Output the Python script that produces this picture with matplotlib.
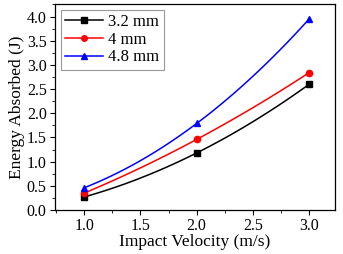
import numpy as np
import matplotlib
matplotlib.use("Agg")
import matplotlib.pyplot as plt
from matplotlib.ticker import MultipleLocator

velocity = [1.0, 2.0, 3.0]
series_labels = ["3.2 mm", "4 mm", "4.8 mm"]
e_32 = [0.27, 1.18, 2.60]
e_40 = [0.35, 1.46, 2.84]
e_48 = [0.46, 1.79, 3.95]
colors = ["black", "red", "blue"]
markers = ["s", "o", "^"]

plt.rcParams["font.family"] = ["Liberation Serif", "DejaVu Serif"]
fig = plt.figure(figsize=(3.43, 2.54), dpi=100)
ax = fig.add_axes([55/343, 44/254, 280/343, 206/254])

xs = np.linspace(min(velocity), max(velocity), 100)
for vals, c, m, lab in zip([e_32, e_40, e_48], colors, markers, series_labels):
    coef = np.polyfit(velocity, vals, 2)
    ax.plot(xs, np.polyval(coef, xs), color=c, lw=1.1)
    ax.plot(velocity, vals, linestyle="none", marker=m, color=c, ms=4.5)
    ax.plot([], [], color=c, marker=m, ms=4, lw=1.1, label=lab)

ax.set_xlim(0.74, 3.23)
ax.set_ylim(0, 4.26)
ax.xaxis.set_major_locator(MultipleLocator(0.5))
ax.xaxis.set_minor_locator(MultipleLocator(0.25))
ax.yaxis.set_major_locator(MultipleLocator(0.5))
ax.yaxis.set_minor_locator(MultipleLocator(0.25))
ax.tick_params(which="both", direction="out", labelsize=11.5, top=False, right=False, pad=2.5)
ax.tick_params(which="major", length=3.5)
ax.tick_params(which="minor", length=2)
ax.set_xticks([1.0, 1.5, 2.0, 2.5, 3.0])
ax.set_xticklabels(["1.0", "1.5", "2.0", "2.5", "3.0"])
ax.set_xlabel("Impact Velocity (m/s)", fontsize=12.5, labelpad=0)
ax.set_ylabel("Energy Absorbed (J)", fontsize=12.5, labelpad=1)
for s in ax.spines.values():
    s.set_linewidth(0.9)
leg = ax.legend(loc="upper left", fontsize=12, frameon=True, fancybox=False,
                edgecolor="gray", handlelength=2.3, borderpad=0.25, labelspacing=0.1,
                handletextpad=0.3, borderaxespad=0.35)
leg.get_frame().set_linewidth(0.8)
fig.savefig("out.png", dpi=100)
